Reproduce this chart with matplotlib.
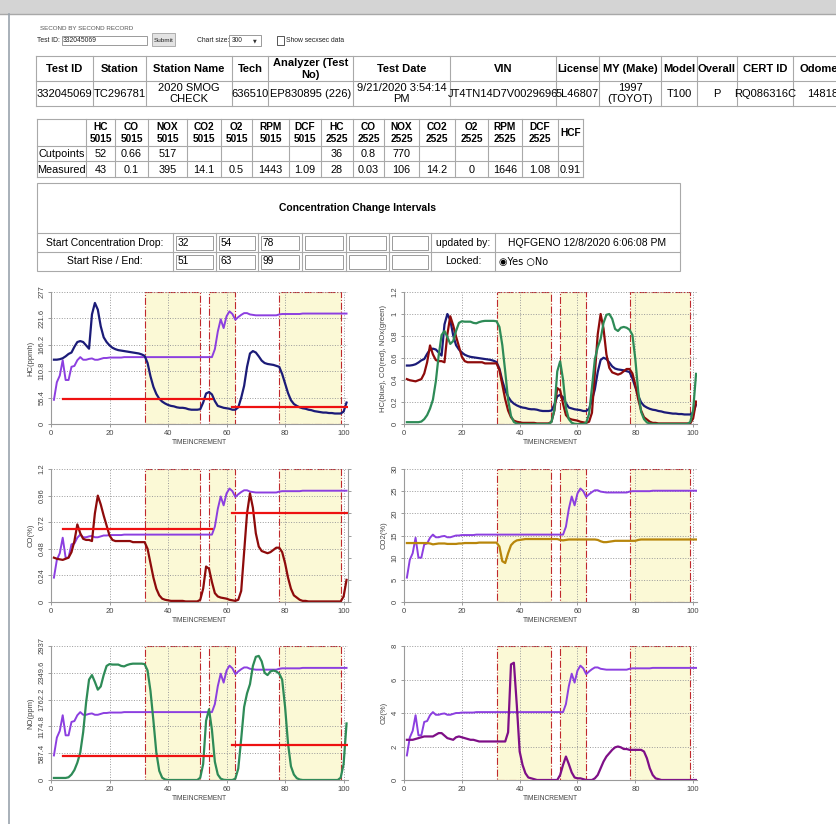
import matplotlib
matplotlib.use('Agg')
import matplotlib.pyplot as plt
from matplotlib.patches import Rectangle
import numpy as np

plt.rcParams['font.family'] = ['Liberation Sans', 'DejaVu Sans']

# ---------------- record data ----------------
test_id = '332045069'
chart_size = '300'

head_cols = ['Test ID', 'Station', 'Station Name', 'Tech', 'Analyzer (Test\nNo)', 'Test Date',
             'VIN', 'License', 'MY (Make)', 'Model', 'Overall', 'CERT ID', 'Odometer']
head_vals = ['332045069', 'TC296781', '2020 SMOG\nCHECK', '636510', 'EP830895 (226)',
             '9/21/2020 3:54:14\nPM', 'JT4TN14D7V0029696', '5L46807', '1997\n(TOYOT)', 'T100',
             'P', 'RQ086316C', '148186']

emis_cols = ['HC\n5015', 'CO\n5015', 'NOX\n5015', 'CO2\n5015', 'O2\n5015', 'RPM\n5015', 'DCF\n5015',
             'HC\n2525', 'CO\n2525', 'NOX\n2525', 'CO2\n2525', 'O2\n2525', 'RPM\n2525', 'DCF\n2525', 'HCF']
cutpoints = ['52', '0.66', '517', '', '', '', '', '36', '0.8', '770', '', '', '', '', '']
measured = ['43', '0.1', '395', '14.1', '0.5', '1443', '1.09', '28', '0.03', '106', '14.2', '0',
            '1646', '1.08', '0.91']

drop_start = [32, 54, 78]
rise_end = [51, 63, 99]
updated_by = 'HQFGENO 12/8/2020 6:06:08 PM'

# phases (5015 / 2525) for the cutpoint lines
phase_start = [4, 62]
phase_end = [55, 101]
hc_cut = [float(cutpoints[0]), float(cutpoints[7])]
co_cut = [float(cutpoints[1]), float(cutpoints[8])]
no_cut = [float(cutpoints[2]), float(cutpoints[9])]

# ---------------- second by second traces ----------------
t = np.arange(1, 102)

speed = [5.5, 9.5, 11.0, 14.5, 10.0, 10.0, 13.0, 13.2, 14.5, 15.2,
         14.6, 14.6, 14.8, 14.9, 14.6, 14.6, 14.8, 15.0, 15.0, 15.1,
         15.1, 15.1, 15.1, 15.1, 15.2, 15.2, 15.2, 15.2, 15.2, 15.2,
         15.2, 15.2, 15.2, 15.2, 15.2, 15.2, 15.2, 15.2, 15.2, 15.2,
         15.2, 15.2, 15.2, 15.2, 15.2, 15.2, 15.2, 15.2, 15.2, 15.2,
         15.2, 15.2, 15.2, 15.2, 15.2, 17.0, 21.0, 23.8, 21.8, 24.5,
         25.6, 25.0, 23.7, 24.3, 24.8, 25.2, 25.2, 24.9, 24.8, 24.7,
         24.7, 24.7, 24.7, 24.7, 24.7, 24.7, 24.7, 24.9, 25.0, 25.0,
         25.0, 25.0, 25.0, 25.0, 25.0, 25.1, 25.1, 25.1, 25.1, 25.1,
         25.1, 25.1, 25.1, 25.1, 25.1, 25.1, 25.1, 25.1, 25.1, 25.1,
         25.1]

hc = [135, 135, 136, 138, 142, 147, 150, 162, 172, 174,
      172, 165, 158, 230, 254, 240, 205, 182, 172, 165,
      160, 157, 155, 154, 153, 152, 151, 150, 149, 148,
      146, 143, 128, 100, 78, 63, 53, 47, 43, 40,
      38, 37, 35, 34, 34, 33, 31, 30, 30, 30,
      31, 45, 64, 67, 62, 48, 38, 36, 34, 33,
      32, 30, 30, 35, 55, 80, 120, 148, 153, 150,
      142, 133, 128, 126, 125, 124, 122, 120, 105, 85,
      65, 50, 42, 38, 35, 33, 32, 30, 29, 27,
      26, 25, 24, 24, 23, 23, 22, 22, 22, 26,
      45]

co = [0.40, 0.39, 0.385, 0.38, 0.39, 0.40, 0.45, 0.55, 0.70, 0.62,
      0.57, 0.56, 0.56, 0.55, 0.80, 0.96, 0.88, 0.78, 0.69, 0.60,
      0.56, 0.55, 0.55, 0.55, 0.55, 0.55, 0.55, 0.54, 0.54, 0.54,
      0.54, 0.54, 0.48, 0.35, 0.22, 0.12, 0.06, 0.03, 0.02, 0.015,
      0.01, 0.01, 0.01, 0.01, 0.01, 0.005, 0.005, 0.005, 0.005, 0.005,
      0.02, 0.12, 0.32, 0.30, 0.18, 0.08, 0.05, 0.04, 0.035, 0.03,
      0.02, 0.015, 0.01, 0.02, 0.10, 0.45, 0.80, 0.98, 0.85, 0.62,
      0.50, 0.46, 0.45, 0.44, 0.45, 0.47, 0.49, 0.49, 0.45, 0.35,
      0.22, 0.12, 0.06, 0.04, 0.02, 0.01, 0.01, 0.005, 0.005, 0.005,
      0.005, 0.005, 0.005, 0.005, 0.005, 0.005, 0.005, 0.005, 0.005, 0.05,
      0.20]

nox = [45, 45, 45, 45, 45, 60, 120, 220, 380, 600,
       1050, 1700, 2200, 2300, 2150, 1980, 2050, 2300, 2500, 2540,
       2530, 2530, 2530, 2500, 2490, 2520, 2540, 2550, 2550, 2550,
       2550, 2540, 2400, 1950, 1300, 600, 200, 50, 10, 0,
       0, 0, 0, 0, 0, 0, 0, 0, 0, 0,
       50, 350, 1300, 1550, 1100, 400, 120, 30, 5, 0,
       0, 0, 30, 250, 900, 1600, 1900, 2100, 2500, 2700,
       2720, 2600, 2350, 2300, 2380, 2400, 2380, 2330, 2200, 1600,
       800, 300, 120, 40, 10, 0, 0, 0, 0, 0,
       0, 0, 0, 0, 0, 0, 0, 0, 50, 350,
       1240]

co2 = [13.3, 13.3, 13.3, 13.3, 13.3, 13.3, 13.3, 13.3, 13.2, 13.0,
       13.1, 13.2, 13.2, 13.2, 13.1, 13.1, 13.1, 13.1, 13.2, 13.2,
       13.3, 13.3, 13.3, 13.3, 13.3, 13.4, 13.4, 13.4, 13.4, 13.4,
       13.4, 13.4, 12.5, 9.2, 8.8, 11.0, 12.8, 13.5, 13.9, 14.0,
       14.1, 14.2, 14.2, 14.2, 14.2, 14.2, 14.2, 14.2, 14.2, 14.2,
       14.2, 14.2, 14.2, 14.0, 13.9, 14.0, 14.1, 14.1, 14.1, 14.1,
       14.1, 14.1, 14.1, 14.1, 14.1, 14.1, 14.0, 13.7, 13.5, 13.5,
       13.6, 13.7, 13.8, 13.8, 13.8, 13.8, 13.8, 13.8, 13.8, 13.8,
       14.0, 14.1, 14.1, 14.1, 14.1, 14.1, 14.1, 14.1, 14.1, 14.1,
       14.1, 14.1, 14.1, 14.1, 14.1, 14.1, 14.1, 14.1, 14.1, 14.1,
       14.1]

o2 = [2.4, 2.4, 2.4, 2.45, 2.5, 2.55, 2.6, 2.6, 2.6, 2.6,
      2.7, 2.8, 2.8, 2.65, 2.5, 2.45, 2.4, 2.55, 2.6, 2.55,
      2.5, 2.45, 2.4, 2.4, 2.35, 2.3, 2.3, 2.3, 2.3, 2.3,
      2.3, 2.3, 2.3, 2.3, 2.3, 2.85, 6.9, 7.0, 4.5, 1.7,
      0.9, 0.4, 0.15, 0.1, 0.05, 0, 0, 0, 0, 0,
      0, 0, 0, 0.3, 0.9, 1.4, 0.95, 0.45, 0.15, 0.1,
      0.1, 0.05, 0, 0, 0, 0.1, 0.3, 0.7, 1.1, 1.4,
      1.6, 1.8, 1.95, 2.0, 1.95, 1.85, 1.85, 1.8, 1.8, 1.8,
      1.8, 1.8, 1.7, 1.3, 0.7, 0.3, 0.1, 0.05, 0, 0,
      0, 0, 0, 0, 0, 0, 0, 0, 0, 0,
      0]

speed_max = 30

HC_C = '#1b1b78'
CO_C = '#8e0b0b'
NO_C = '#2e8b57'
CO2_C = '#b8860b'
O2_C = '#7f0f87'
SPD_C = '#8c3fe0'
CUT_C = '#ee1111'
LINE_C = '#a9a9a9'

fig = plt.figure(figsize=(8.37, 8.24), dpi=100)
page = fig.add_axes([0, 0, 1, 1])
page.set_xlim(0, 837)
page.set_ylim(824, 0)
page.axis('off')

# window frame
page.add_patch(Rectangle((0, 0), 837, 14, fc='#d4d4d4', ec='none'))
page.plot([0, 837], [14, 14], color='#a8a8a8', lw=1)
page.plot([9, 9], [14, 824], color='#9aa3ad', lw=1.2)

# form line
page.text(40, 28, 'SECOND BY SECOND RECORD', fontsize=4.5, color='#555555', va='center')
page.text(37, 40.5, 'Test ID:', fontsize=4.9, color='#222222', va='center')
page.add_patch(Rectangle((62, 36), 85, 9, fc='white', ec='#9a9a9a', lw=0.7))
page.text(63, 40.5, test_id, fontsize=4.9, color='#222222', va='center')
page.add_patch(Rectangle((152, 33), 23, 13, fc='#e3e3e3', ec='#adadad', lw=0.7))
page.text(163.5, 40, 'Submit', fontsize=4.6, color='#222222', va='center', ha='center')
page.text(197, 40.5, 'Chart size:', fontsize=4.9, color='#222222', va='center')
page.add_patch(Rectangle((229, 35), 32, 11, fc='white', ec='#9a9a9a', lw=0.7))
page.text(232, 40.5, chart_size, fontsize=4.8, color='#222222', va='center')
page.text(255, 40.5, '\u25bc', fontsize=3.5, color='#333333', va='center', ha='center',
          family='DejaVu Sans')
page.add_patch(Rectangle((277, 36), 7, 9, fc='white', ec='#555555', lw=0.7))
page.text(286, 40.5, 'Show secxsec data', fontsize=4.9, color='#222222', va='center')

# table 1: test header
t1_x = [36, 93, 146, 232, 268, 353, 450, 556, 599, 661, 697, 737, 793, 870]
t1_y = [56, 81, 106]
for x in t1_x:
    page.plot([x, x], [t1_y[0], t1_y[-1]], color=LINE_C, lw=0.8)
for y in t1_y:
    page.plot([t1_x[0], 870], [y, y], color=LINE_C, lw=0.8)
for i in range(len(head_cols)):
    cx = (t1_x[i] + t1_x[i + 1]) / 2
    if i == len(head_cols) - 1:
        cx = 826
    page.text(cx, 69, head_cols[i], ha='center', va='center', fontsize=8,
              fontweight='bold', linespacing=1.15)
    page.text(cx, 93.5, head_vals[i], ha='center', va='center', fontsize=8,
              linespacing=1.15)

# table 2: cutpoints / measured
t2_x = [37, 86, 115, 148, 187, 221, 252, 289, 321, 353, 384, 419, 455, 488, 522, 558, 583]
t2_y = [119, 146, 161, 177]
for x in t2_x:
    page.plot([x, x], [t2_y[0], t2_y[-1]], color=LINE_C, lw=0.8)
for y in t2_y:
    page.plot([t2_x[0], t2_x[-1]], [y, y], color=LINE_C, lw=0.8)
for i in range(len(emis_cols)):
    cx = (t2_x[i + 1] + t2_x[i + 2]) / 2
    page.text(cx, 133, emis_cols[i], ha='center', va='center', fontsize=7.3,
              fontweight='bold', linespacing=1.2)
    page.text(cx, 154, cutpoints[i], ha='center', va='center', fontsize=7.8)
    page.text(cx, 169.5, measured[i], ha='center', va='center', fontsize=7.8)
page.text(61.5, 154, 'Cutpoints', ha='center', va='center', fontsize=7.8)
page.text(61.5, 169.5, 'Measured', ha='center', va='center', fontsize=7.8)

# table 3: concentration change intervals
t3_x = [37, 173, 216, 258, 302, 346, 389, 431, 495, 680]
t3_y = [183, 233, 252, 271]
page.add_patch(Rectangle((37, 183), 643, 88, fc='none', ec=LINE_C, lw=0.8))
for y in t3_y[1:3]:
    page.plot([37, 680], [y, y], color=LINE_C, lw=0.8)
for x in t3_x[1:-1]:
    page.plot([x, x], [t3_y[1], t3_y[-1]], color=LINE_C, lw=0.8)
page.text(358, 208, 'Concentration Change Intervals', ha='center', va='center',
          fontsize=7.5, fontweight='bold')
row_mid = [242.5, 261.5]
page.text(105, row_mid[0], 'Start Concentration Drop:', ha='center', va='center', fontsize=7.5)
page.text(105, row_mid[1], 'Start Rise / End:', ha='center', va='center', fontsize=7.5)
for r, vals in enumerate([drop_start, rise_end]):
    for j in range(6):
        x0, x1 = t3_x[1 + j], t3_x[2 + j]
        y0 = t3_y[1 + r]
        page.add_patch(Rectangle((x0 + 3, y0 + 3), x1 - x0 - 6, 13.5, fc='white',
                                 ec='#9a9a9a', lw=0.7))
        if j < len(vals):
            page.text(x0 + 5, row_mid[r], str(vals[j]), va='center', fontsize=7.3)
page.text(463, row_mid[0], 'updated by:', ha='center', va='center', fontsize=7.5)
page.text(587, row_mid[0], updated_by, ha='center', va='center', fontsize=7.5)
page.text(463, row_mid[1], 'Locked:', ha='center', va='center', fontsize=7.5)
page.text(499, row_mid[1], '\u25c9Yes \u25cbNo', va='center', fontsize=7,
          family=['DejaVu Sans'])


# ---------------- charts ----------------
def chart_axes(left, top, width, height):
    return fig.add_axes([left / 837, 1 - (top + height) / 824, width / 837, height / 824])


def setup(ax, ymax, n_int, ylabel):
    ax.set_xlim(0, 101.5)
    ax.set_ylim(0, ymax)
    ticks = np.linspace(0, ymax, n_int + 1)
    ax.set_yticks(ticks)
    ax.set_yticklabels(['%g' % v for v in ticks], rotation=90, va='center')
    ax.set_xticks([0, 20, 40, 60, 80, 100])
    ax.grid(True, ls=':', color='#9a9a9a', lw=0.7)
    for s in ['top', 'right']:
        ax.spines[s].set_visible(False)
    for s in ['left', 'bottom']:
        ax.spines[s].set_color('#9a9a9a')
        ax.spines[s].set_linewidth(0.8)
    ax.tick_params(length=2.5, width=0.6, color='#8a8a8a', labelsize=5.5,
                   labelcolor='#444444', pad=1.5)
    ax.set_xlabel('TIMEINCREMENT', fontsize=4.8, color='#444444', labelpad=1.5)
    ax.set_ylabel(ylabel, fontsize=5.5, color='#444444', labelpad=3)
    for s, e in zip(drop_start, rise_end):
        ax.add_patch(Rectangle((s, 0), e - s, ymax, fc='#fbf9d6', ec='#c0282d',
                               ls='-.', lw=0.8, zorder=1))


def cut_lines(ax, cuts):
    for x0, x1, c in zip(phase_start, phase_end, cuts):
        ax.plot([x0, x1], [c, c], color=CUT_C, lw=1.6, zorder=3)


spd = np.array(speed)
L_LEFT, R_LEFT = 51, 404
L_W, R_W = 297, 293.5
rows = [(292, 132), (469, 133), (646, 134)]

# HC
ax = chart_axes(L_LEFT, rows[0][0], L_W, rows[0][1])
setup(ax, 277, 5, 'HC(ppmh)')
ax.plot(t, spd * 277 / speed_max, color=SPD_C, lw=1.4)
cut_lines(ax, hc_cut)
ax.plot(t, hc, color=HC_C, lw=1.6)

# normalized HC / CO / NOx
ax = chart_axes(R_LEFT, rows[0][0], R_W, rows[0][1])
setup(ax, 1.2, 6, 'HC(blue), CO(red), NOx(green)')
ax.plot(t, np.array(hc) / max(hc), color=HC_C, lw=1.6)
ax.plot(t, np.array(co) / max(co), color=CO_C, lw=1.6)
ax.plot(t, np.array(nox) / max(nox), color=NO_C, lw=1.6)

# CO
ax = chart_axes(L_LEFT, rows[1][0], L_W, rows[1][1])
setup(ax, 1.2, 5, 'CO(%)')
ax.plot(t, spd * 1.2 / speed_max, color=SPD_C, lw=1.4)
cut_lines(ax, co_cut)
ax.plot(t, co, color=CO_C, lw=1.6)
ax2 = ax.twinx()
ax2.set_ylim(0, 6)
ax2.set_yticks(range(7))
ax2.set_yticklabels([])
ax2.tick_params(length=2.5, width=0.6, color='#8a8a8a')
for s in ['top', 'left', 'bottom']:
    ax2.spines[s].set_visible(False)
ax2.spines['right'].set_color('#9a9a9a')
ax2.spines['right'].set_linewidth(0.8)

# CO2
ax = chart_axes(R_LEFT, rows[1][0], R_W, rows[1][1])
setup(ax, 30, 6, 'CO2(%)')
ax.plot(t, spd, color=SPD_C, lw=1.4)
ax.plot(t, co2, color=CO2_C, lw=1.6)

# NO
ax = chart_axes(L_LEFT, rows[2][0], L_W, rows[2][1])
setup(ax, 2937, 5, 'NO(ppm)')
ax.plot(t, spd * 2937 / speed_max, color=SPD_C, lw=1.4)
cut_lines(ax, no_cut)
ax.plot(t, nox, color=NO_C, lw=1.6)

# O2
ax = chart_axes(R_LEFT, rows[2][0], R_W, rows[2][1])
setup(ax, 8, 4, 'O2(%)')
ax.plot(t, spd * 8 / speed_max, color=SPD_C, lw=1.4)
ax.plot(t, o2, color=O2_C, lw=1.6)

fig.savefig('out.png', dpi=100)
